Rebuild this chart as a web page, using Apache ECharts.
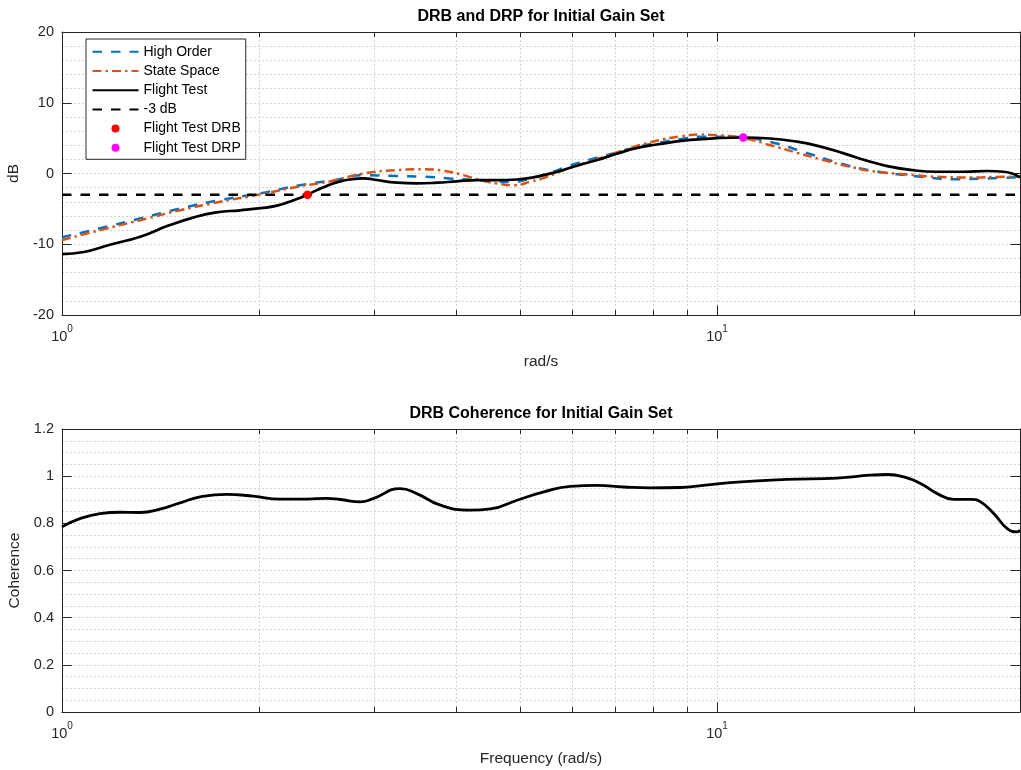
<!DOCTYPE html>
<html>
<head>
<meta charset="utf-8">
<script src="https://cdn.jsdelivr.net/npm/echarts@6/dist/echarts.min.js"></script>
<style>
  html, body { margin: 0; padding: 0; background: #ffffff; }
  #chart { width: 1021px; height: 770px; }
</style>
</head>
<body>
<div id="chart"></div>
<script>
// ---- Data: frequency (rad/s) and magnitude (dB) ----
const highOrderFreq = [1.0, 1.143, 1.316, 1.514, 1.744, 2.006, 2.31, 2.6, 2.886, 3.245, 3.56, 3.91, 4.3, 4.61, 4.89, 5.19, 5.56, 5.97, 6.41, 6.94, 7.55, 8.19, 8.79, 9.53, 10.73, 12.06, 13.56, 15.26, 17.14, 20.44, 22.98, 25.85, 29.0];
const highOrderDb   = [-9.0, -7.75, -6.35, -4.95, -3.75, -2.8, -1.65, -0.95, -0.25, -0.35, -0.45, -0.7, -0.95, -1.15, -1.15, -0.7, 0.1, 1.15, 2.0, 2.85, 3.75, 4.4, 4.85, 5.2, 5.15, 4.45, 3.05, 1.55, 0.45, -0.45, -0.8, -0.7, -0.5];

const stateSpaceFreq = [1.0, 1.143, 1.316, 1.514, 1.744, 2.006, 2.31, 2.567, 2.886, 3.245, 3.564, 3.823, 4.10, 4.35, 4.61, 4.89, 5.19, 5.50, 5.83, 6.26, 6.71, 7.20, 7.72, 8.29, 8.79, 9.4, 10.0, 10.98, 12.06, 13.25, 14.55, 15.98, 17.55, 19.28, 21.68, 24.4, 27.4, 29.0];
const stateSpaceDb   = [-9.4, -8.0, -6.6, -5.2, -4.0, -2.95, -1.8, -1.1, 0.0, 0.47, 0.6, 0.38, -0.23, -0.94, -1.4, -1.65, -1.17, -0.47, 0.47, 1.42, 2.35, 3.3, 4.15, 4.85, 5.25, 5.5, 5.42, 5.0, 4.0, 2.92, 1.89, 0.94, 0.23, -0.09, -0.47, -0.56, -0.47, -0.47];

const flightTestFreq = [1.0, 1.08, 1.18, 1.32, 1.45, 1.59, 1.72, 1.87, 2.01, 2.13, 2.23, 2.30, 2.37, 2.45, 2.55, 2.65, 2.75, 2.89, 2.99, 3.25, 3.48, 3.74, 4.01, 4.3, 4.61, 4.95, 5.31, 5.7, 6.11, 6.56, 7.03, 7.55, 8.09, 8.49, 9.1, 10.0, 10.96, 12.06, 13.25, 14.38, 15.61, 16.95, 18.19, 19.74, 21.68, 23.81, 25.85, 27.4, 28.4, 29.0];
const flightTestDb   = [-11.4, -11.1, -10.1, -8.9, -7.4, -6.2, -5.5, -5.2, -4.9, -4.55, -3.95, -3.5, -3.0, -2.35, -1.65, -1.15, -0.85, -0.7, -0.85, -1.3, -1.4, -1.3, -1.1, -0.95, -0.95, -0.85, -0.45, 0.25, 1.1, 1.9, 2.8, 3.6, 4.1, 4.4, 4.75, 5.0, 5.09, 4.95, 4.5, 3.8, 2.85, 1.8, 1.05, 0.5, 0.25, 0.25, 0.35, 0.25, -0.1, -0.55];

const thresholdFreq = [1, 29];
const thresholdDb   = [-3, -3];

const drbFreq = [2.37];
const drbDb   = [-3.0];
const drpFreq = [10.96];
const drpDb   = [5.09];

// ---- Data: coherence ----
const coherenceFreq = [1.0, 1.065, 1.143, 1.226, 1.316, 1.411, 1.514, 1.625, 1.785, 1.96, 2.153, 2.365, 2.537, 2.66, 2.853, 2.985, 3.283, 3.48, 3.78, 4.20, 4.51, 4.95, 5.44, 5.97, 6.56, 7.20, 7.91, 8.79, 9.53, 10.73, 12.79, 15.26, 17.14, 18.19, 19.28, 20.44, 21.68, 22.98, 24.4, 25.25, 26.46, 27.73, 28.72, 29.0];
const coherenceVal  = [0.785, 0.820, 0.841, 0.847, 0.846, 0.860, 0.887, 0.912, 0.923, 0.915, 0.903, 0.903, 0.906, 0.901, 0.891, 0.905, 0.947, 0.926, 0.877, 0.856, 0.861, 0.898, 0.933, 0.957, 0.961, 0.954, 0.950, 0.952, 0.961, 0.975, 0.986, 0.992, 1.004, 1.007, 0.997, 0.969, 0.926, 0.902, 0.902, 0.891, 0.841, 0.778, 0.764, 0.771];

// ---- Axis ticks ----
const freqMin = 1;
const freqMax = 29;
const xMajorTicks = [1, 10];
const xMinorTicks = [2, 3, 4, 5, 6, 7, 8, 9, 10, 20];
const dbAxis = { min: -20, max: 20, step: 10, minorSplit: 5 };
const cohAxis = { min: 0, max: 1.2, step: 0.2, minorSplit: 4 };

const lineNames = ['High Order', 'State Space', 'Flight Test', '-3 dB'];
const markerNames = ['Flight Test DRB', 'Flight Test DRP'];

// ---- Styling ----
const FONT = 'Liberation Sans, Arial, Helvetica, sans-serif';
const AX = '#262626';
const GRID_LINE = { color: '#d4d4d4', width: 1, type: [2, 2] };
const DASH = [9.5, 9];
const DASH_DOT = [9, 4, 2.5, 4];

const pairs = (xs, ys) => xs.map((x, i) => [x, ys[i]]);

const plotLeft = 62;
const plotRight = 1;
const grids = [
  { left: plotLeft, right: plotRight, top: 32, height: 283 },
  { left: plotLeft, right: plotRight, top: 429, height: 283 }
];

function xAxesFor(gridIndex, name) {
  const base = { type: 'log', logBase: 10, min: freqMin, max: freqMax, gridIndex: gridIndex };
  const tickStyle = { color: AX, width: 1 };
  return [
    Object.assign({}, base, {
      position: 'bottom',
      axisLine: { show: true, onZero: false, lineStyle: { color: AX, width: 1 } },
      axisTick: { show: true, inside: true, length: 9.6, customValues: xMajorTicks, lineStyle: tickStyle },
      axisLabel: {
        show: true, customValues: xMajorTicks, margin: 9.5,
        formatter: v => '{b|10}{s|' + Math.round(Math.log10(v)) + '}',
        rich: {
          b: { fontSize: 14.5, lineHeight: 20, color: AX, fontFamily: FONT, verticalAlign: 'bottom' },
          s: { fontSize: 10, lineHeight: 10, color: AX, fontFamily: FONT, verticalAlign: 'top' }
        }
      },
      splitLine: { show: false },
      name: name, nameLocation: 'middle', nameGap: 39,
      nameTextStyle: { fontSize: 15.5, color: AX, fontFamily: FONT }
    }),
    Object.assign({}, base, {
      position: 'bottom',
      axisLine: { show: false, onZero: false },
      axisTick: { show: true, inside: true, length: 5, customValues: xMinorTicks, lineStyle: tickStyle },
      axisLabel: { show: false },
      splitLine: { show: true, lineStyle: GRID_LINE }
    }),
    Object.assign({}, base, {
      position: 'top',
      axisLine: { show: true, onZero: false, lineStyle: { color: AX, width: 1 } },
      axisTick: { show: true, inside: true, length: 9.6, customValues: xMajorTicks, lineStyle: tickStyle },
      axisLabel: { show: false },
      splitLine: { show: false }
    }),
    Object.assign({}, base, {
      position: 'top',
      axisLine: { show: false, onZero: false },
      axisTick: { show: true, inside: true, length: 5, customValues: xMinorTicks, lineStyle: tickStyle },
      axisLabel: { show: false },
      splitLine: { show: false }
    })
  ];
}

function yAxesFor(gridIndex, spec, name) {
  const base = { type: 'value', min: spec.min, max: spec.max, interval: spec.step, gridIndex: gridIndex };
  return [
    Object.assign({}, base, {
      position: 'left',
      axisLine: { show: true, onZero: false, lineStyle: { color: AX, width: 1 } },
      axisTick: { show: true, inside: true, length: 9.6, lineStyle: { color: AX, width: 1 } },
      axisLabel: { show: true, margin: 8, fontSize: 14.5, color: AX, fontFamily: FONT },
      splitLine: { show: true, lineStyle: GRID_LINE },
      minorTick: { show: false, splitNumber: spec.minorSplit },
      minorSplitLine: { show: true, lineStyle: GRID_LINE },
      name: name, nameLocation: 'middle', nameGap: 35,
      nameTextStyle: { fontSize: 15.5, color: AX, fontFamily: FONT }
    }),
    Object.assign({}, base, {
      position: 'right',
      axisLine: { show: true, onZero: false, lineStyle: { color: AX, width: 1 } },
      axisTick: { show: true, inside: true, length: 9.6, lineStyle: { color: AX, width: 1 } },
      axisLabel: { show: false },
      splitLine: { show: false }
    })
  ];
}

// Legend entries: line entries show only their stroke (no centre marker)
const legendData = lineNames.map(n => ({ name: n, itemStyle: { opacity: 0 } }))
  .concat(markerNames.map(n => ({ name: n })));

const chart = echarts.init(document.getElementById('chart'), null, { renderer: 'canvas' });

chart.setOption({
  animation: false,
  backgroundColor: '#ffffff',
  textStyle: { fontFamily: FONT },
  graphic: [
    { type: 'text', x: 541, y: 17, style: { text: 'DRB and DRP for Initial Gain Set', font: 'bold 16px ' + FONT, fill: '#000', align: 'center', verticalAlign: 'middle' } },
    { type: 'text', x: 541, y: 414, style: { text: 'DRB Coherence for Initial Gain Set', font: 'bold 16px ' + FONT, fill: '#000', align: 'center', verticalAlign: 'middle' } }
  ],
  grid: grids.map(g => Object.assign({ outerBoundsMode: 'none', containLabel: false }, g)),
  xAxis: xAxesFor(0, 'rad/s').concat(xAxesFor(1, 'Frequency (rad/s)')),
  yAxis: yAxesFor(0, dbAxis, 'dB').concat(yAxesFor(1, cohAxis, 'Coherence')),
  legend: {
    orient: 'vertical',
    left: 86, top: 39,
    data: legendData,
    itemWidth: 46, itemHeight: 8, itemGap: 5.2,
    padding: [5.8, 5, 4.5, 5.5],
    backgroundColor: '#ffffff',
    borderColor: AX, borderWidth: 1, borderRadius: 0,
    selectedMode: false,
    textStyle: { fontSize: 14, color: '#000', fontFamily: FONT }
  },
  series: [
    {
      name: 'High Order', type: 'line', xAxisIndex: 0, yAxisIndex: 0,
      data: pairs(highOrderFreq, highOrderDb), smooth: true, symbol: 'none',
      lineStyle: { color: '#0072BD', width: 2.5, type: DASH }, itemStyle: { color: '#0072BD' }
    },
    {
      name: 'State Space', type: 'line', xAxisIndex: 0, yAxisIndex: 0,
      data: pairs(stateSpaceFreq, stateSpaceDb), smooth: true, symbol: 'none',
      lineStyle: { color: '#D95319', width: 2.5, type: DASH_DOT }, itemStyle: { color: '#D95319' }
    },
    {
      name: 'Flight Test', type: 'line', xAxisIndex: 0, yAxisIndex: 0,
      data: pairs(flightTestFreq, flightTestDb), smooth: true, symbol: 'none',
      lineStyle: { color: '#000000', width: 2.7 }, itemStyle: { color: '#000000' }
    },
    {
      name: '-3 dB', type: 'line', xAxisIndex: 0, yAxisIndex: 0,
      data: pairs(thresholdFreq, thresholdDb), symbol: 'none',
      lineStyle: { color: '#000000', width: 2.5, type: DASH }, itemStyle: { color: '#000000' }
    },
    {
      name: 'Flight Test DRB', type: 'scatter', xAxisIndex: 0, yAxisIndex: 0,
      data: pairs(drbFreq, drbDb), symbol: 'circle', symbolSize: 8.5,
      itemStyle: { color: '#FF0000', opacity: 1 }, z: 5
    },
    {
      name: 'Flight Test DRP', type: 'scatter', xAxisIndex: 0, yAxisIndex: 0,
      data: pairs(drpFreq, drpDb), symbol: 'circle', symbolSize: 8.5,
      itemStyle: { color: '#FF00FF', opacity: 1 }, z: 5
    },
    {
      name: 'Coherence', type: 'line', xAxisIndex: 4, yAxisIndex: 2,
      data: pairs(coherenceFreq, coherenceVal), smooth: true, symbol: 'none',
      lineStyle: { color: '#000000', width: 2.8 }, itemStyle: { color: '#000000' }
    }
  ]
});
</script>
</body>
</html>
